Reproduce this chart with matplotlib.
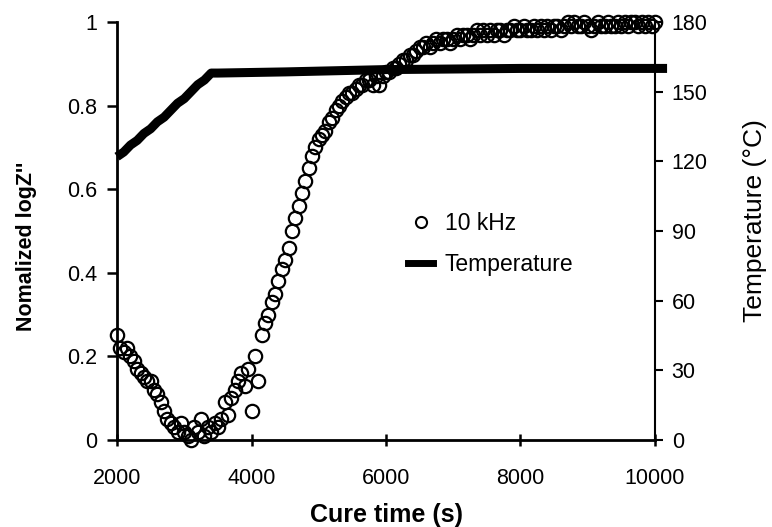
import numpy as np
import matplotlib
matplotlib.use("Agg")
import matplotlib.pyplot as plt
from matplotlib.lines import Line2D

plt.rcParams['font.family'] = ['Liberation Sans', 'DejaVu Sans']

# normalized logZ'' at 10 kHz, sampled every 50 s from 2000 to 10000 s
cure_time = np.arange(2000, 10001, 50)
logz_10k = [
    0.25, 0.22, 0.21, 0.22, 0.20, 0.19, 0.17, 0.16, 0.15, 0.14,   # 2000-2450
    0.14, 0.12, 0.11, 0.09, 0.07, 0.05, 0.04, 0.03, 0.02, 0.04,   # 2500-2950
    0.02, 0.01, 0.00, 0.03, 0.02, 0.05, 0.01, 0.03, 0.02, 0.04,   # 3000-3450
    0.03, 0.05, 0.09, 0.06, 0.10, 0.12, 0.14, 0.16, 0.13, 0.17,   # 3500-3950
    0.07, 0.20, 0.14, 0.25, 0.28, 0.30, 0.33, 0.35, 0.38, 0.41,   # 4000-4450
    0.43, 0.46, 0.50, 0.53, 0.56, 0.59, 0.62, 0.65, 0.68, 0.70,   # 4500-4950
    0.72, 0.73, 0.74, 0.76, 0.77, 0.79, 0.80, 0.81, 0.82, 0.83,   # 5000-5450
    0.83, 0.84, 0.85, 0.85, 0.86, 0.86, 0.85, 0.87, 0.85, 0.87,   # 5500-5950
    0.88, 0.88, 0.89, 0.89, 0.90, 0.91, 0.91, 0.92, 0.92, 0.93,   # 6000-6450
    0.94, 0.94, 0.95, 0.94, 0.95, 0.96, 0.95, 0.96, 0.96, 0.95,   # 6500-6950
    0.96, 0.97, 0.96, 0.97, 0.97, 0.96, 0.97, 0.98, 0.97, 0.98,   # 7000-7450
    0.97, 0.98, 0.97, 0.98, 0.98, 0.97, 0.98, 0.98, 0.99, 0.98,   # 7500-7950
    0.98, 0.99, 0.98, 0.98, 0.99, 0.98, 0.99, 0.98, 0.99, 0.98,   # 8000-8450
    0.99, 0.99, 0.98, 0.99, 1.00, 0.99, 1.00, 0.99, 0.99, 1.00,   # 8500-8950
    0.99, 0.98, 0.99, 1.00, 0.99, 0.99, 1.00, 0.99, 0.99, 1.00,   # 9000-9450
    0.99, 1.00, 0.99, 1.00, 1.00, 0.99, 1.00, 0.99, 1.00, 0.99,   # 9500-9950
    1.00,                                                         # 10000
]

# cure temperature profile
temp_time = [2000, 2100, 2200, 2300, 2400, 2500, 2600, 2700, 2800, 2900,
             3000, 3100, 3200, 3300, 3400, 3500, 4500, 6000, 8000, 10000, 10180]
temperature = [122, 124, 127, 129, 132, 134, 137, 139, 142, 145,
               147, 150, 153, 155, 158, 158, 158.5, 159.5, 160, 160, 160]

fig = plt.figure(figsize=(7.72, 5.27), dpi=100)
ax = fig.add_axes([0.1516, 0.1651, 0.6968, 0.7932])
ax2 = ax.twinx()

ax.plot(cure_time, logz_10k, 'o', ms=9.6, mfc='none', mec='black', mew=1.6,
        clip_on=False, zorder=3)
ax2.plot(temp_time, temperature, '-', color='black', lw=6.5, clip_on=False,
         solid_capstyle='butt')

ax.set_xlim(2000, 10000)
ax.set_ylim(0, 1)
ax2.set_ylim(0, 180)
ax.set_xticks([2000, 4000, 6000, 8000, 10000])
ax.set_yticks([0, 0.2, 0.4, 0.6, 0.8, 1])
ax.set_yticklabels(['0', '0.2', '0.4', '0.6', '0.8', '1'])
ax2.set_yticks([0, 30, 60, 90, 120, 150, 180])

for a in (ax, ax2):
    a.spines['top'].set_visible(False)
ax.spines['right'].set_visible(False)
ax.spines['left'].set_linewidth(2)
ax.spines['bottom'].set_linewidth(2)
ax2.spines['left'].set_visible(False)
ax2.spines['bottom'].set_visible(False)
ax2.spines['right'].set_linewidth(1.5)

ax.tick_params(axis='x', direction='inout', length=9, width=1.8,
               labelsize=15.5, pad=16)
ax.tick_params(axis='y', direction='out', length=7, width=1.8,
               labelsize=15.5, pad=7)
ax2.tick_params(axis='y', direction='out', length=6, width=1.5,
                labelsize=15.5, pad=6)

ax.set_xlabel('Cure time (s)', fontsize=18, fontweight='bold', labelpad=10)
ax.set_ylabel("Nomalized logZ''", fontsize=15.5, fontweight='bold')
ax2.set_ylabel('Temperature (°C)', fontsize=19)
ax.yaxis.set_label_coords(-0.149, 0.464)
ax2.yaxis.set_label_coords(1.163, 0.526)

handles = [Line2D([], [], ls='none', marker='o', ms=8, mfc='none',
                  mec='black', mew=1.5),
           Line2D([], [], color='black', lw=5)]
fig.legend(handles, ['10 kHz', 'Temperature'], loc='center left',
           bbox_to_anchor=(0.502, 0.537), frameon=False, fontsize=16.5,
           handlelength=1.1, handletextpad=0.5, labelspacing=0.75)

fig.savefig('out.png', dpi=100)
